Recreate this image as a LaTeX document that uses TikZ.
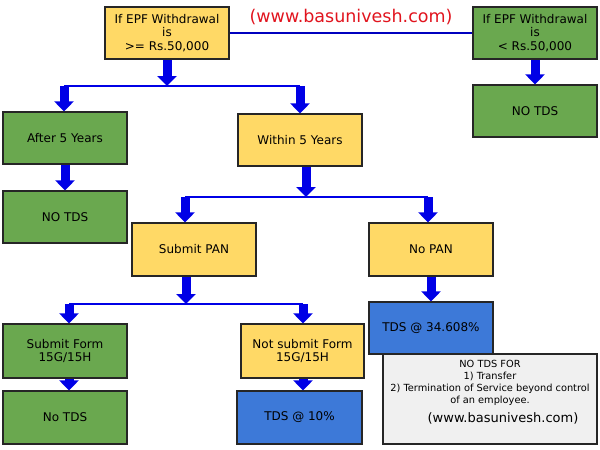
\documentclass[tikz,border=0pt]{standalone}
\usepackage{fontspec}
\setmainfont{DejaVu Sans}
\usetikzlibrary{arrows.meta}
\definecolor{boxyellow}{RGB}{255,217,102}
\definecolor{boxgreen}{RGB}{106,168,79}
\definecolor{boxblue}{RGB}{61,121,216}
\definecolor{arrowblue}{RGB}{0,0,230}
\definecolor{notegray}{RGB}{240,240,240}
\definecolor{webred}{RGB}{225,20,30}

\begin{document}
\begin{tikzpicture}[x=1pt,y=-1pt]
\tikzset{box/.style = {draw=black!85, line width=1.2pt, minimum width=124pt, minimum height=52pt, align=center, inner sep=2pt, font=\fontsize{12}{13.6}\selectfont}}
\tikzset{ybox/.style = {box, fill=boxyellow}}
\tikzset{gbox/.style = {box, fill=boxgreen}}
\tikzset{bbox/.style = {box, fill=boxblue}}
\tikzset{bigarrow/.style = {-{Triangle[width=19pt,length=10pt]}, line width=9pt, arrowblue}}
\tikzset{split/.style = {line width=2.5pt, arrowblue}}
\tikzset{link/.style = {line width=1.2pt, blue!75!black}}

\useasboundingbox (0,0) rectangle (600,450);

% top row
\node[ybox] (top1) at (167,33) {If EPF Withdrawal\\is\\>= Rs.50,000};
\node[gbox] (top2) at (535,33) {If EPF Withdrawal\\is\\< Rs.50,000};
\node[gbox] (notdsr) at (535,111) {NO TDS};
\node[text=webred, font=\fontsize{17.5}{20}\selectfont] (web) at (351,17) {(www.basunivesh.com)};

% second and third rows
\node[gbox] (after5) at (65,138) {After 5 Years};
\node[ybox] (within5) at (300,140) {Within 5 Years};
\node[gbox] (notdsl) at (65,217) {NO TDS};
\node[ybox, minimum height=53pt] (subpan) at (194,249.5) {Submit PAN};
\node[ybox, minimum height=53pt] (nopan) at (431,249.5) {No PAN};

% bottom rows
\node[gbox, minimum height=54pt] (form) at (65,351) {Submit Form\\15G/15H};
\node[ybox, minimum width=123pt, minimum height=54pt] (notform) at (302.5,351) {Not submit Form\\15G/15H};
\node[bbox] (tdsnopan) at (431,328) {TDS @ 34.608\%};
\node[gbox, minimum height=53pt] (notdsb) at (65,417.5) {No TDS};
\node[bbox, minimum width=125pt, minimum height=53pt] (tds10) at (299.5,417.5) {TDS @ 10\%};

% note
\node[box, fill=notegray, minimum width=214pt, minimum height=90pt] (note) at (490,399) {};
\node[align=center, font=\fontsize{9.8}{12}\selectfont] (notetxt) at (490,383) {NO TDS FOR\\1) Transfer\\2) Termination of Service beyond control\\of an employee.};
\node[font=\fontsize{13}{15}\selectfont] (noteweb) at (503,418) {(www.basunivesh.com)};

\coordinate (s1) at (167,86);
\coordinate (s1a) at (64,86);
\coordinate (s1b) at (300,86);
\coordinate (s2) at (306,197);
\coordinate (s2a) at (185,197);
\coordinate (s2b) at (428,197);
\coordinate (s3) at (186,304);
\coordinate (s3a) at (69,304);
\coordinate (s3b) at (303,304);

\draw[link] (top1) -- (top2);

\draw[split] (s1a) -- (s1b);
\draw[split] (s2a) -- (s2b);
\draw[split] (s3a) -- (s3b);

\draw[bigarrow] (top1) -- (s1);
\draw[bigarrow] (s1a) -- (s1a |- after5.north);
\draw[bigarrow] (s1b) -- (s1b |- within5.north);
\draw[bigarrow] (after5) -- (notdsl);
\draw[bigarrow] (top2) -- (notdsr);

\draw[bigarrow] (within5.south -| s2) -- (s2);
\draw[bigarrow] (s2a) -- (s2a |- subpan.north);
\draw[bigarrow] (s2b) -- (s2b |- nopan.north);
\draw[bigarrow] (nopan) -- (tdsnopan);

\draw[bigarrow] (subpan.south -| s3) -- (s3);
\draw[bigarrow] (s3a) -- (s3a |- form.north);
\draw[bigarrow] (s3b) -- (s3b |- notform.north);
\draw[bigarrow] (form.south -| s3a) -- (s3a |- notdsb.north);
\draw[bigarrow] (notform.south -| s3b) -- (s3b |- tds10.north);

\end{tikzpicture}
\end{document}
